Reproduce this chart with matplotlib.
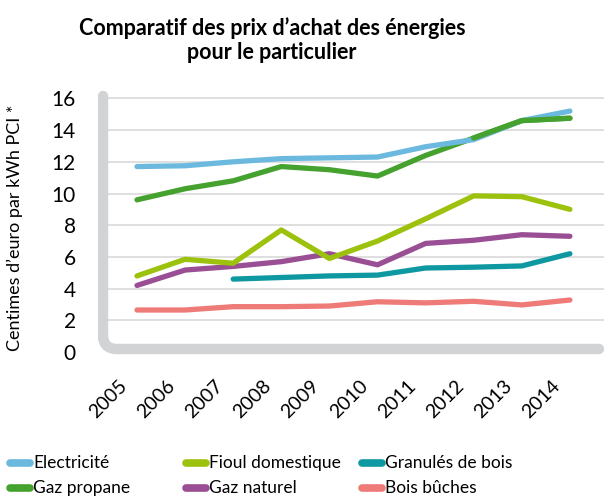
import matplotlib
matplotlib.use("Agg")
import matplotlib.pyplot as plt
from matplotlib.path import Path
from matplotlib.patches import PathPatch
from matplotlib.lines import Line2D
import matplotlib.transforms as mtransforms

years = [2005, 2006, 2007, 2008, 2009, 2010, 2011, 2012, 2013, 2014]
electricite = [11.7, 11.75, 12.0, 12.2, 12.25, 12.3, 12.95, 13.4, 14.6, 15.2]
gaz_propane = [9.6, 10.3, 10.8, 11.7, 11.5, 11.1, 12.4, 13.5, 14.6, 14.75]
fioul = [4.8, 5.85, 5.6, 7.7, 5.9, 7.0, 8.4, 9.85, 9.8, 9.0]
gaz_naturel = [4.2, 5.17, 5.4, 5.7, 6.2, 5.5, 6.85, 7.05, 7.4, 7.3]
granules_years = [2007, 2008, 2009, 2010, 2011, 2012, 2013, 2014]
granules = [4.6, 4.7, 4.8, 4.85, 5.3, 5.35, 5.43, 6.2]
bois = [2.65, 2.65, 2.86, 2.86, 2.9, 3.17, 3.1, 3.2, 2.97, 3.28]
yticks = [0, 2, 4, 6, 8, 10, 12, 14, 16]

C_ELEC = "#6cb9df"
C_PROP = "#46a22f"
C_FIOUL = "#9dc20d"
C_GRAN = "#0e98a1"
C_NAT = "#9a4f95"
C_BOIS = "#ee7b78"
C_FRAME = "#d1d3d5"
C_GRID = "#dcdcdc"

FONT = ["Lato", "DejaVu Sans"]

W, H = 604, 497
fig = plt.figure(figsize=(W / 100, H / 100), dpi=100)

px_left, px_right = 98, 604
px_bottom, px_top = 356, 90
x05, dx = 137, 48.1
y0, dy = 352, 15.85

ax = fig.add_axes([px_left / W, 1 - px_bottom / H, (px_right - px_left) / W, (px_bottom - px_top) / H])
ax.set_xlim(2005 - (x05 - px_left) / dx, 2014 + (px_right - x05 - 9 * dx) / dx)
ax.set_ylim(-(px_bottom - y0) / dy, (y0 - px_top) / dy)
for s in ax.spines.values():
    s.set_visible(False)
ax.tick_params(length=0)

xg0 = 2005 - (x05 - 108) / dx
for t in yticks[1:]:
    ax.plot([xg0, ax.get_xlim()[1]], [t, t], color=C_GRID, lw=1.3, zorder=1, solid_capstyle="butt")

fx = 2005 - (x05 - 103) / dx
ftop = (y0 - 96) / dy
fbot = (y0 - 349) / dy
fright = 2014 + (599 - x05 - 9 * dx) / dx
rx, ry = 14 / dx, 14 / dy
verts = [(fx, ftop), (fx, fbot + ry), (fx, fbot), (fx + rx, fbot), (fright, fbot)]
codes = [Path.MOVETO, Path.LINETO, Path.CURVE3, Path.CURVE3, Path.LINETO]
frame = PathPatch(Path(verts, codes), facecolor="none", edgecolor=C_FRAME, lw=7.5,
                  capstyle="round", joinstyle="round", zorder=2)
ax.add_patch(frame)

lw = 3.8
kw = dict(lw=lw, solid_capstyle="round", solid_joinstyle="round", zorder=3)
ax.plot(years, bois, color=C_BOIS, **kw)
ax.plot(granules_years, granules, color=C_GRAN, **kw)
ax.plot(years, gaz_naturel, color=C_NAT, **kw)
ax.plot(years, fioul, color=C_FIOUL, **kw)
ax.plot(years, gaz_propane, color=C_PROP, **kw)
ax.plot(years, electricite, color=C_ELEC, **kw)
ax.plot(years[-3:], gaz_propane[-3:], color=C_PROP, **kw)

ax.set_yticks(yticks)
ax.set_yticklabels([str(t) for t in yticks], family=FONT, fontsize=15)
ax.tick_params(axis="y", pad=16)
ax.set_xticks(years)
ax.set_xticklabels([str(y) for y in years], family=FONT, fontsize=14, rotation=45,
                   ha="right", va="top", rotation_mode="anchor")
ax.tick_params(axis="x", pad=15)
offset = mtransforms.ScaledTranslation(-13.5 / 72, 0, fig.dpi_scale_trans)
for lab in ax.get_xticklabels():
    lab.set_transform(lab.get_transform() + offset)

fig.text(15 / W, 1 - 228 / H, "Centimes d\u2019euro par kWh PCI *", rotation=90,
         ha="center", va="center", family=FONT, fontsize=13)

fig.text(272 / W, 1 - 40 / H, "Comparatif des prix d\u2019achat des énergies\npour le particulier",
         ha="center", va="center", family=FONT, fontsize=15.5, fontweight="bold",
         linespacing=1.2)

items = [("Electricité", C_ELEC, 7, 463), ("Fioul domestique", C_FIOUL, 183, 463),
         ("Granulés de bois", C_GRAN, 359, 463), ("Gaz propane", C_PROP, 7, 488),
         ("Gaz naturel", C_NAT, 183, 488), ("Bois bûches", C_BOIS, 359, 488)]
for label, col, x, y in items:
    fig.add_artist(Line2D([(x + 3) / W, (x + 23) / W], [1 - y / H, 1 - y / H], color=col,
                          lw=5.5, solid_capstyle="round", transform=fig.transFigure))
    fig.text((x + 26) / W, 1 - y / H, label, ha="left", va="center", family=FONT, fontsize=12.5)

fig.savefig("out.png", dpi=100)
